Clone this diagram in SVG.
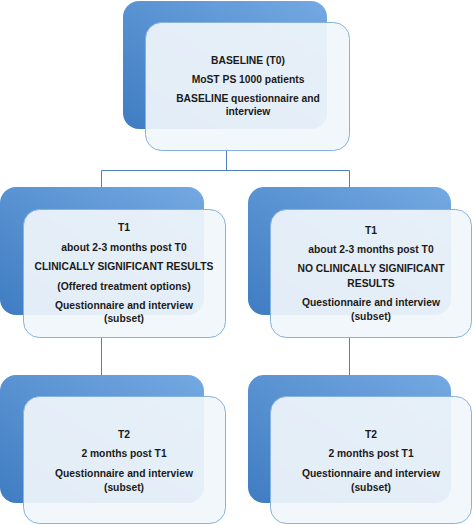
<svg xmlns="http://www.w3.org/2000/svg" width="473" height="525" viewBox="0 0 473 525">
<defs>
<linearGradient id="bg" x1="0" y1="1" x2="1" y2="0">
<stop offset="0" stop-color="#3f7cc2"/>
<stop offset="1" stop-color="#74a9e2"/>
</linearGradient>
<style>
.back{fill:url(#bg);}
.front{fill:#f1f6fb;fill-opacity:0.92;stroke:#86b2de;stroke-width:1;}
.conn{fill:none;stroke:#4f81bd;stroke-width:1;}
text{font-family:"Liberation Sans",Arial,sans-serif;font-size:10.3px;font-weight:bold;fill:#1a1a1a;text-anchor:middle;}
</style>
</defs>
<rect width="473" height="525" fill="#ffffff"/>
<g id="connectors">
<path class="conn" d="M226.5 150 V170.5 M101.5 188 V170.5 H349.5 V188"/>
<path class="conn" d="M101.5 337 V375"/>
<path class="conn" d="M349.5 337 V375"/>
</g>
<g id="baseline">
<rect class="back" x="123" y="1" width="204" height="128" rx="16"/>
<rect class="front" x="145.5" y="22.5" width="204" height="128" rx="16"/>
<text x="248" y="64">BASELINE (T0)</text>
<text x="248" y="83">MoST PS 1000 patients</text>
<text x="248" y="102">BASELINE questionnaire and</text>
<text x="248" y="115">interview</text>
</g>
<g id="t1-significant">
<rect class="back" x="0" y="187" width="204" height="128" rx="16"/>
<rect class="front" x="23.5" y="209.5" width="202" height="128" rx="16"/>
<text x="124" y="231">T1</text>
<text x="124" y="251">about 2-3 months post T0</text>
<text x="124" y="270">CLINICALLY SIGNIFICANT RESULTS</text>
<text x="124" y="290">(Offered treatment options)</text>
<text x="124" y="309">Questionnaire and interview</text>
<text x="124" y="322">(subset)</text>
</g>
<g id="t1-not-significant">
<rect class="back" x="248" y="187" width="203" height="128" rx="16"/>
<rect class="front" x="270.5" y="209.5" width="201" height="128" rx="16"/>
<text x="371" y="234">T1</text>
<text x="371" y="253">about 2-3 months post T0</text>
<text x="371" y="272">NO CLINICALLY SIGNIFICANT</text>
<text x="371" y="287">RESULTS</text>
<text x="371" y="306">Questionnaire and interview</text>
<text x="371" y="320">(subset)</text>
</g>
<g id="t2-left">
<rect class="back" x="0" y="375" width="204" height="128" rx="16"/>
<rect class="front" x="23.5" y="396.5" width="202" height="127" rx="16"/>
<text x="124" y="438">T2</text>
<text x="124" y="457">2 months post T1</text>
<text x="124" y="477">Questionnaire and interview</text>
<text x="124" y="491">(subset)</text>
</g>
<g id="t2-right">
<rect class="back" x="248" y="375" width="203" height="128" rx="16"/>
<rect class="front" x="270.5" y="396.5" width="201" height="127" rx="16"/>
<text x="371" y="438">T2</text>
<text x="371" y="457">2 months post T1</text>
<text x="371" y="477">Questionnaire and interview</text>
<text x="371" y="491">(subset)</text>
</g>
</svg>
